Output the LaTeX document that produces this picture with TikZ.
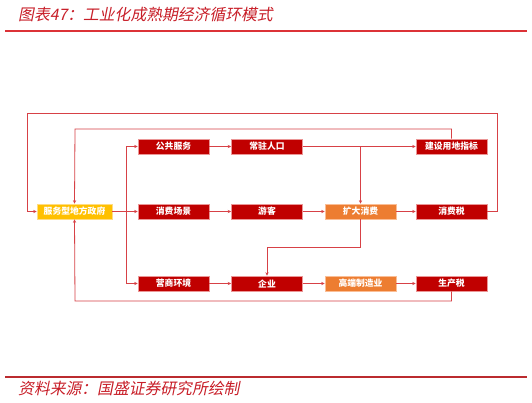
\documentclass[tikz,border=0pt]{standalone}
\usepackage{fontspec}
\setmainfont{Noto Sans CJK SC}
\newfontfamily\titlefont[FakeSlant=0.2]{Noto Sans CJK SC}
\usetikzlibrary{arrows.meta}
\definecolor{boxred}{RGB}{192,0,0}
\definecolor{boxborder}{RGB}{235,150,150}
\definecolor{gold}{RGB}{255,192,0}
\definecolor{orng}{RGB}{237,125,49}
\definecolor{linered}{RGB}{215,65,70}
\definecolor{titlered}{RGB}{200,30,40}
\definecolor{rulered}{RGB}{220,50,55}
\tikzset{
  box/.style={draw=boxborder, line width=0.6pt, fill=boxred, text=white,
    minimum width=71pt, minimum height=15pt, inner sep=0pt,
    font=\fontsize{8.8}{9}\selectfont\bfseries},
  ybox/.style={box, fill=gold, draw={rgb,255:red,255;green,220;blue,130}, minimum width=75pt},
  obox/.style={box, fill=orng, draw={rgb,255:red,250;green,190;blue,150}},
  conn/.style={draw=linered, line width=0.8pt, -{Stealth[length=3.5pt,width=3.2pt]}},
  plain/.style={draw=linered, line width=0.8pt},
}
\begin{document}
\begin{tikzpicture}[x=1pt,y=-1pt]
\fill[white] (0,0) rectangle (532,402);
\useasboundingbox (0,0) rectangle (532,402);
% title and rules
\node[anchor=west, text=titlered, font=\titlefont\fontsize{15.8}{17}\selectfont, inner sep=0pt] (title) at (18,15) {图表47：工业化成熟期经济循环模式};
\draw[rulered, line width=1.3pt] (5,31) -- (527,31);
\draw[rulered!85!black, line width=1.1pt] (5,377) -- (527,377);
\node[anchor=west, text=titlered, font=\titlefont\fontsize{15.8}{17}\selectfont, inner sep=0pt] (src) at (18,388) {资料来源：国盛证券研究所绘制};
% nodes
\node[ybox] (gov) at (74.5,211.5) {服务型地方政府};
\node[box] (pub) at (173.5,146.5) {公共服务};
\node[box] (pop) at (267,146.5) {常驻人口};
\node[box] (land) at (451.5,146.5) {建设用地指标};
\node[box] (scene) at (173.5,211.5) {消费场景};
\node[box] (tour) at (267,211.5) {游客};
\node[obox] (expand) at (360.5,211.5) {扩大消费};
\node[box] (ctax) at (451.5,211.5) {消费税};
\node[box] (envb) at (173.5,283.5) {营商环境};
\node[box] (ent) at (267,283.5) {企业};
\node[obox] (manu) at (360.5,283.5) {高端制造业};
\node[box] (ptax) at (451.5,283.5) {生产税};
% coordinates
\coordinate (split) at (126,211.5);
\coordinate (j) at (360.5,146.5);
\coordinate (k) at (360.5,247);
\coordinate (o1) at (497,211.5);
\coordinate (o2) at (497,113);
\coordinate (o3) at (27,113);
\coordinate (o4) at (27,211.5);
\coordinate (l1) at (451.5,129);
\coordinate (l2) at (75,129);
\coordinate (b1) at (451.5,301);
\coordinate (b2) at (75,301);
% connectors
\draw[conn] (gov.east) -- (scene.west);
\draw[conn] (split) |- (pub.west);
\draw[conn] (split) |- (envb.west);
\draw[conn] (pub) -- (pop);
\draw[conn] (pop) -- (land);
\draw[conn] (j) -- (expand.north);
\draw[conn] (scene) -- (tour);
\draw[conn] (tour) -- (expand);
\draw[conn] (expand) -- (ctax);
\draw[plain] (expand.south) -- (k);
\draw[conn] (k) -| (ent.north);
\draw[conn] (envb) -- (ent);
\draw[conn] (ent) -- (manu);
\draw[conn] (manu) -- (ptax);
\draw[conn] (ctax.east) -- (o1) -- (o2) -- (o3) -- (o4) -- (gov.west);
\draw[conn] (land.north) -- (l1) -- (l2) -- (gov.north);
\draw[conn] (ptax.south) -- (b1) -- (b2) -- (gov.south);
\end{tikzpicture}
\end{document}
